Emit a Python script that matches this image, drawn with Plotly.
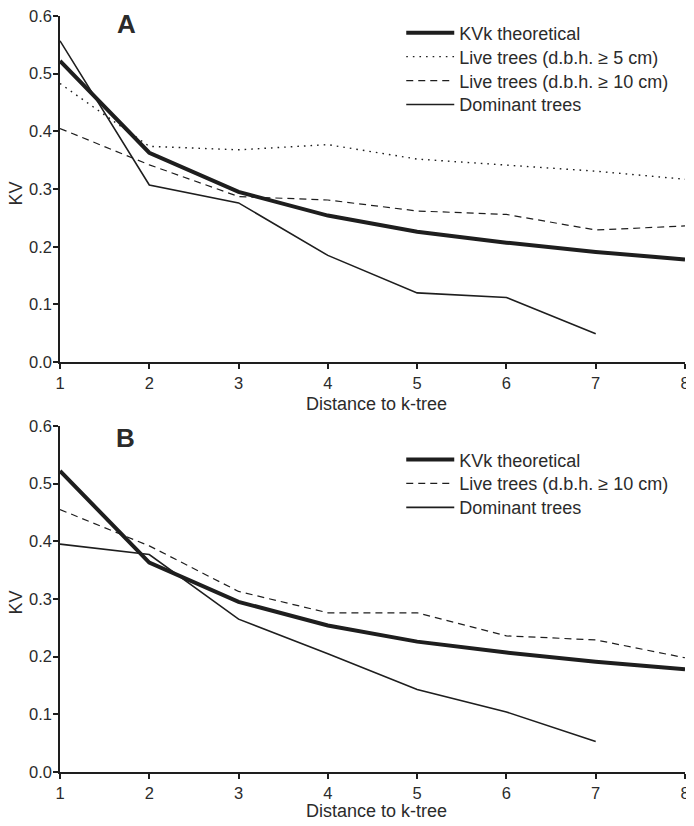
import plotly.graph_objects as go
from plotly.subplots import make_subplots

distance = [1, 2, 3, 4, 5, 6, 7, 8]
distance_dom = [1, 2, 3, 4, 5, 6, 7]

# Panel A
a_theoretical = [0.522, 0.363, 0.295, 0.254, 0.226, 0.207, 0.191, 0.178]
a_live5 = [0.483, 0.374, 0.368, 0.377, 0.352, 0.342, 0.331, 0.317]
a_live10 = [0.405, 0.342, 0.287, 0.281, 0.262, 0.256, 0.229, 0.236]
a_dominant = [0.557, 0.307, 0.276, 0.185, 0.120, 0.112, 0.049]

# Panel B
b_theoretical = [0.522, 0.363, 0.295, 0.254, 0.226, 0.207, 0.191, 0.178]
b_live10 = [0.455, 0.392, 0.313, 0.276, 0.276, 0.236, 0.229, 0.198]
b_dominant = [0.395, 0.377, 0.265, 0.205, 0.143, 0.104, 0.053]

y_ticks = [0.0, 0.1, 0.2, 0.3, 0.4, 0.5, 0.6]
x_ticks = [1, 2, 3, 4, 5, 6, 7, 8]

FONT = "Arial, Liberation Sans, sans-serif"
TXT = "#2b2b2b"
LINE = "#1e1e1e"
DOT = "1.6px,5px"
DASH = "7px,5px"

fig = make_subplots(rows=2, cols=1, vertical_spacing=0.08)

# one legend per entry so that row spacing can match the reference
legend_rows_a = [0.9776, 0.9459, 0.9142, 0.8826]
legend_rows_b = [0.4129, 0.3813, 0.3496]

entries = [
    (1, distance, a_theoretical, "KVk theoretical", 4, "solid"),
    (1, distance, a_live5, "Live trees (d.b.h. ≥ 5 cm)", 1.4, DOT),
    (1, distance, a_live10, "Live trees (d.b.h. ≥ 10 cm)", 1.2, DASH),
    (1, distance_dom, a_dominant, "Dominant trees", 1.6, "solid"),
    (2, distance, b_theoretical, "KVk theoretical", 4, "solid"),
    (2, distance, b_live10, "Live trees (d.b.h. ≥ 10 cm)", 1.2, DASH),
    (2, distance_dom, b_dominant, "Dominant trees", 1.6, "solid"),
]
legend_ys = legend_rows_a + legend_rows_b

legend_layout = {}
for i, (row, x, y, name, width, dash) in enumerate(entries):
    key = "legend" if i == 0 else f"legend{i + 1}"
    fig.add_trace(go.Scatter(x=x, y=y, mode="lines", name=name,
                             line=dict(color=LINE, width=width, dash=dash),
                             legend=key, showlegend=True), row=row, col=1)
    legend_layout[key] = dict(x=0.546, y=legend_ys[i], xanchor="left", yanchor="middle",
                              font=dict(family=FONT, size=18, color=TXT),
                              bgcolor="rgba(0,0,0,0)", itemwidth=48)
fig.update_layout(**legend_layout)

axis_common = dict(showline=True, linecolor=LINE, linewidth=1.5, ticks="outside",
                   ticklen=5, tickcolor=LINE, tickwidth=1.5, showgrid=False, zeroline=False,
                   automargin=False, ticklabeloverflow="allow",
                   tickfont=dict(family=FONT, size=16.5, color=TXT))

for r in (1, 2):
    fig.update_xaxes(range=[1, 8], tickvals=x_ticks, row=r, col=1, **axis_common)
    fig.update_yaxes(range=[0, 0.6], tickvals=y_ticks, tickformat=".1f", row=r, col=1,
                     ticklabelstandoff=-2, **axis_common)

fig.update_layout(
    xaxis=dict(domain=[0, 1]), yaxis=dict(domain=[0.5422, 1]),
    xaxis2=dict(domain=[0, 1]), yaxis2=dict(domain=[0, 0.4578]),
)

title_font = dict(family=FONT, size=18, color=TXT)
for ymid in (0.7652, 0.2243):
    fig.add_annotation(text="KV", x=-0.0704, y=ymid, xref="paper", yref="paper",
                       textangle=-90, showarrow=False, font=title_font,
                       xanchor="center", yanchor="middle")
for ymid in (0.4868, -0.0521):
    fig.add_annotation(text="Distance to k-tree", x=0.507, y=ymid, xref="paper", yref="paper",
                       showarrow=False, font=title_font, xanchor="center", yanchor="middle")

fig.add_annotation(text="<b>A</b>", x=0.107, y=0.9888, xref="paper", yref="paper",
                   showarrow=False, font=dict(family=FONT, size=26, color=TXT),
                   xanchor="center", yanchor="middle")
fig.add_annotation(text="<b>B</b>", x=0.104, y=0.4420, xref="paper", yref="paper",
                   showarrow=False, font=dict(family=FONT, size=26, color=TXT),
                   xanchor="center", yanchor="middle")

# page body has an 8px margin: size the figure so the page does not overflow the window
fig.update_layout(width=686, height=810, margin=dict(l=52, r=9, t=6, b=46),
                  plot_bgcolor="white", paper_bgcolor="white",
                  font=dict(family=FONT, color=TXT))

fig.write_html("out.html")
